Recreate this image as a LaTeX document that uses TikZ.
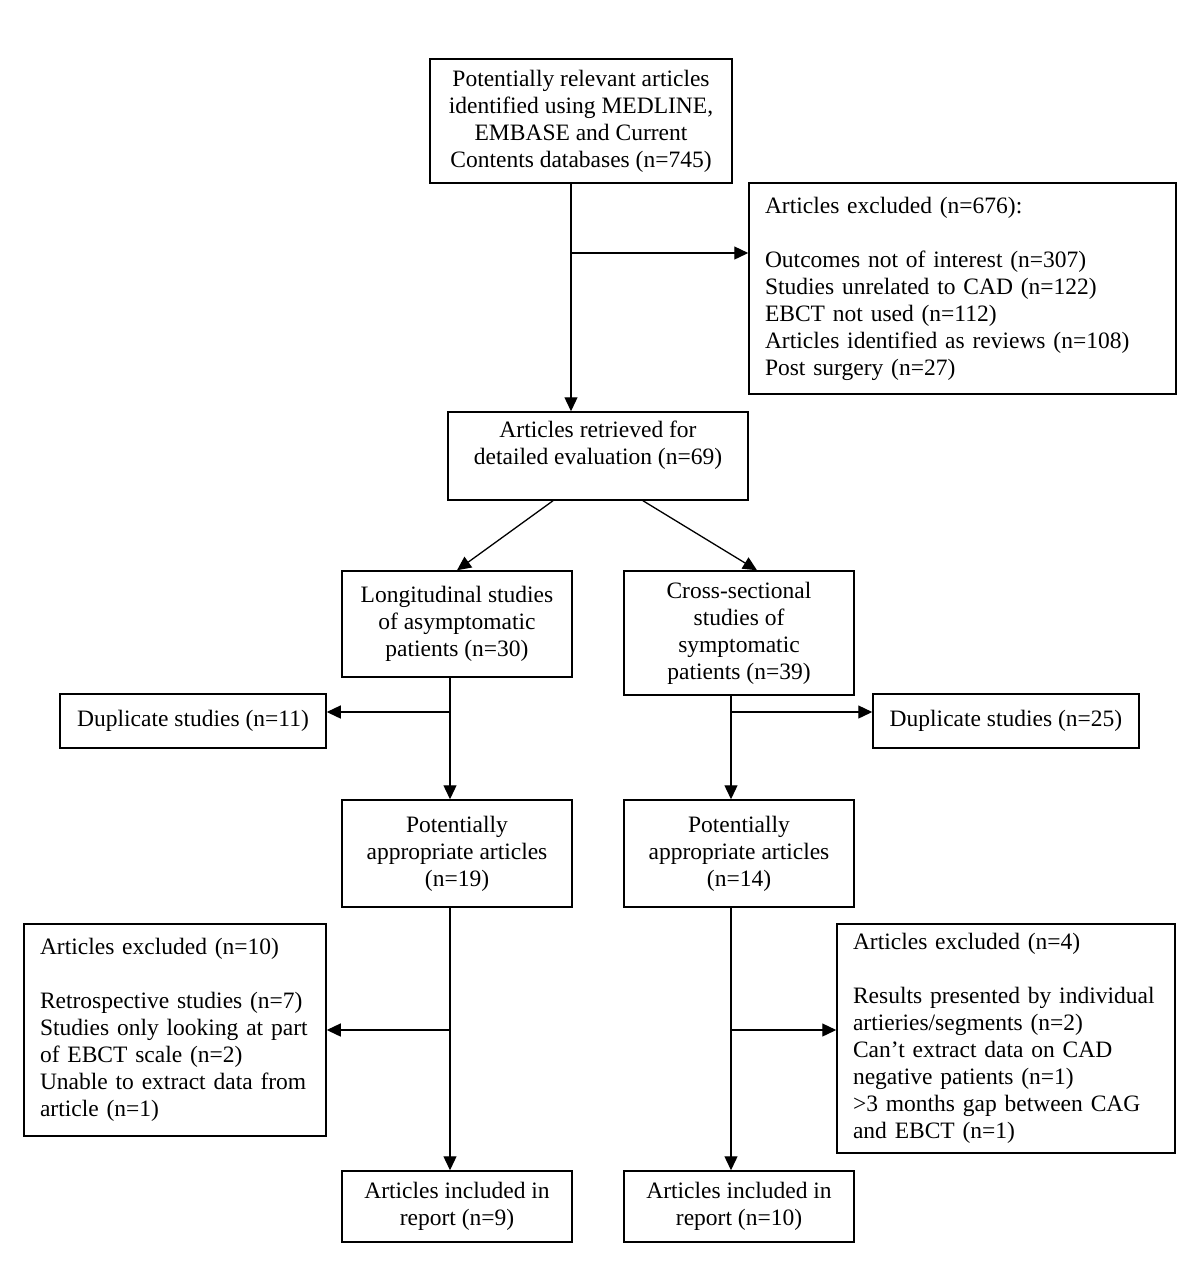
\documentclass[tikz,border=0pt]{standalone}
\usepackage{fontspec}
\setmainfont{Liberation Serif}
\usetikzlibrary{arrows.meta,calc}
\newcommand\diafont{\fontsize{11.75pt}{13.5pt}\selectfont}
\begin{document}
\begin{tikzpicture}[x=0.5pt,y=-0.5pt,
  box/.style={draw, line width=0.75pt, inner sep=0pt, align=center, font=\diafont},
  lbox/.style={draw, line width=0.75pt, inner xsep=8pt, inner ysep=0pt, align=left, font=\diafont},
  ln/.style={line width=0.65pt},
  arr/.style={line width=0.65pt, -{Triangle[length=7pt,width=6.5pt]}}]
\useasboundingbox (0,0) rectangle (1200,1271);

\node[box, minimum width=151pt, minimum height=62pt] (top) at (581,121)
  {Potentially relevant articles\\identified using MEDLINE,\\EMBASE and Current\\Contents databases (n=745)};
\node[lbox, text width=197.5pt, minimum height=105.5pt] (ex1) at (962.5,288.5)
  {Articles excluded (n=676):\\[13.5pt]Outcomes not of interest (n=307)\\Studies unrelated to CAD (n=122)\\EBCT not used (n=112)\\Articles identified as reviews (n=108)\\Post surgery (n=27)};
\node[box, minimum width=150pt, minimum height=44pt] (retr) at (598,456)
  {Articles retrieved for\\detailed evaluation (n=69)\\\mbox{}};
\node[box, minimum width=115pt, minimum height=53pt] (lon) at (457,624)
  {Longitudinal studies\\of asymptomatic\\patients (n=30)};
\node[box, minimum width=115pt, minimum height=62pt] (cross) at (739,633)
  {Cross-sectional\\studies of\\symptomatic\\patients (n=39)};
\node[box, minimum width=133pt, minimum height=27pt] (dupL) at (193,721)
  {Duplicate studies (n=11)};
\node[box, minimum width=133pt, minimum height=27pt] (dupR) at (1006,721)
  {Duplicate studies (n=25)};
\node[box, minimum width=115pt, minimum height=53.5pt] (appL) at (457,853.5)
  {Potentially\\appropriate articles\\(n=19)};
\node[box, minimum width=115pt, minimum height=53.5pt] (appR) at (739,853.5)
  {Potentially\\appropriate articles\\(n=14)};
\node[lbox, text width=135pt, minimum height=106pt] (exL) at (175,1030)
  {Articles excluded (n=10)\\[13.5pt]Retrospective studies (n=7)\\Studies only looking at part\\of EBCT scale (n=2)\\Unable to extract data from\\article (n=1)};
\node[lbox, text width=153pt, minimum height=114.5pt] (exR) at (1006,1038.5)
  {Articles excluded (n=4)\\[13.5pt]Results presented by individual\\artieries/segments (n=2)\\Can’t extract data on CAD\\negative patients (n=1)\\>3 months gap between CAG\\and EBCT (n=1)};
\node[box, minimum width=115pt, minimum height=35.5pt] (incL) at (457,1206.5)
  {Articles included in\\report (n=9)};
\node[box, minimum width=115pt, minimum height=35.5pt] (incR) at (739,1206.5)
  {Articles included in\\report (n=10)};

\coordinate (j0) at (571,253);
\draw[ln] (top.south -| j0) -- (j0);
\draw[arr] (j0) -- (retr.north -| j0);
\draw[arr] (j0) -- (j0 -| ex1.west);

\draw[arr] ($(retr.south)+(-45,0)$) -- (lon.north);
\draw[arr] ($(retr.south)+(45,0)$) -- ($(cross.north)+(18,0)$);

\coordinate (j1) at (450,712);
\draw[arr] (lon.south -| j1) -- (appL.north -| j1);
\draw[arr] (j1) -- (j1 -| dupL.east);
\coordinate (j2) at (731,712);
\draw[arr] (cross.south -| j2) -- (appR.north -| j2);
\draw[arr] (j2) -- (j2 -| dupR.west);
\coordinate (j3) at (450,1030);
\draw[arr] (appL.south -| j3) -- (incL.north -| j3);
\draw[arr] (j3) -- (j3 -| exL.east);
\coordinate (j4) at (731,1030);
\draw[arr] (appR.south -| j4) -- (incR.north -| j4);
\draw[arr] (j4) -- (j4 -| exR.west);
\end{tikzpicture}
\end{document}
